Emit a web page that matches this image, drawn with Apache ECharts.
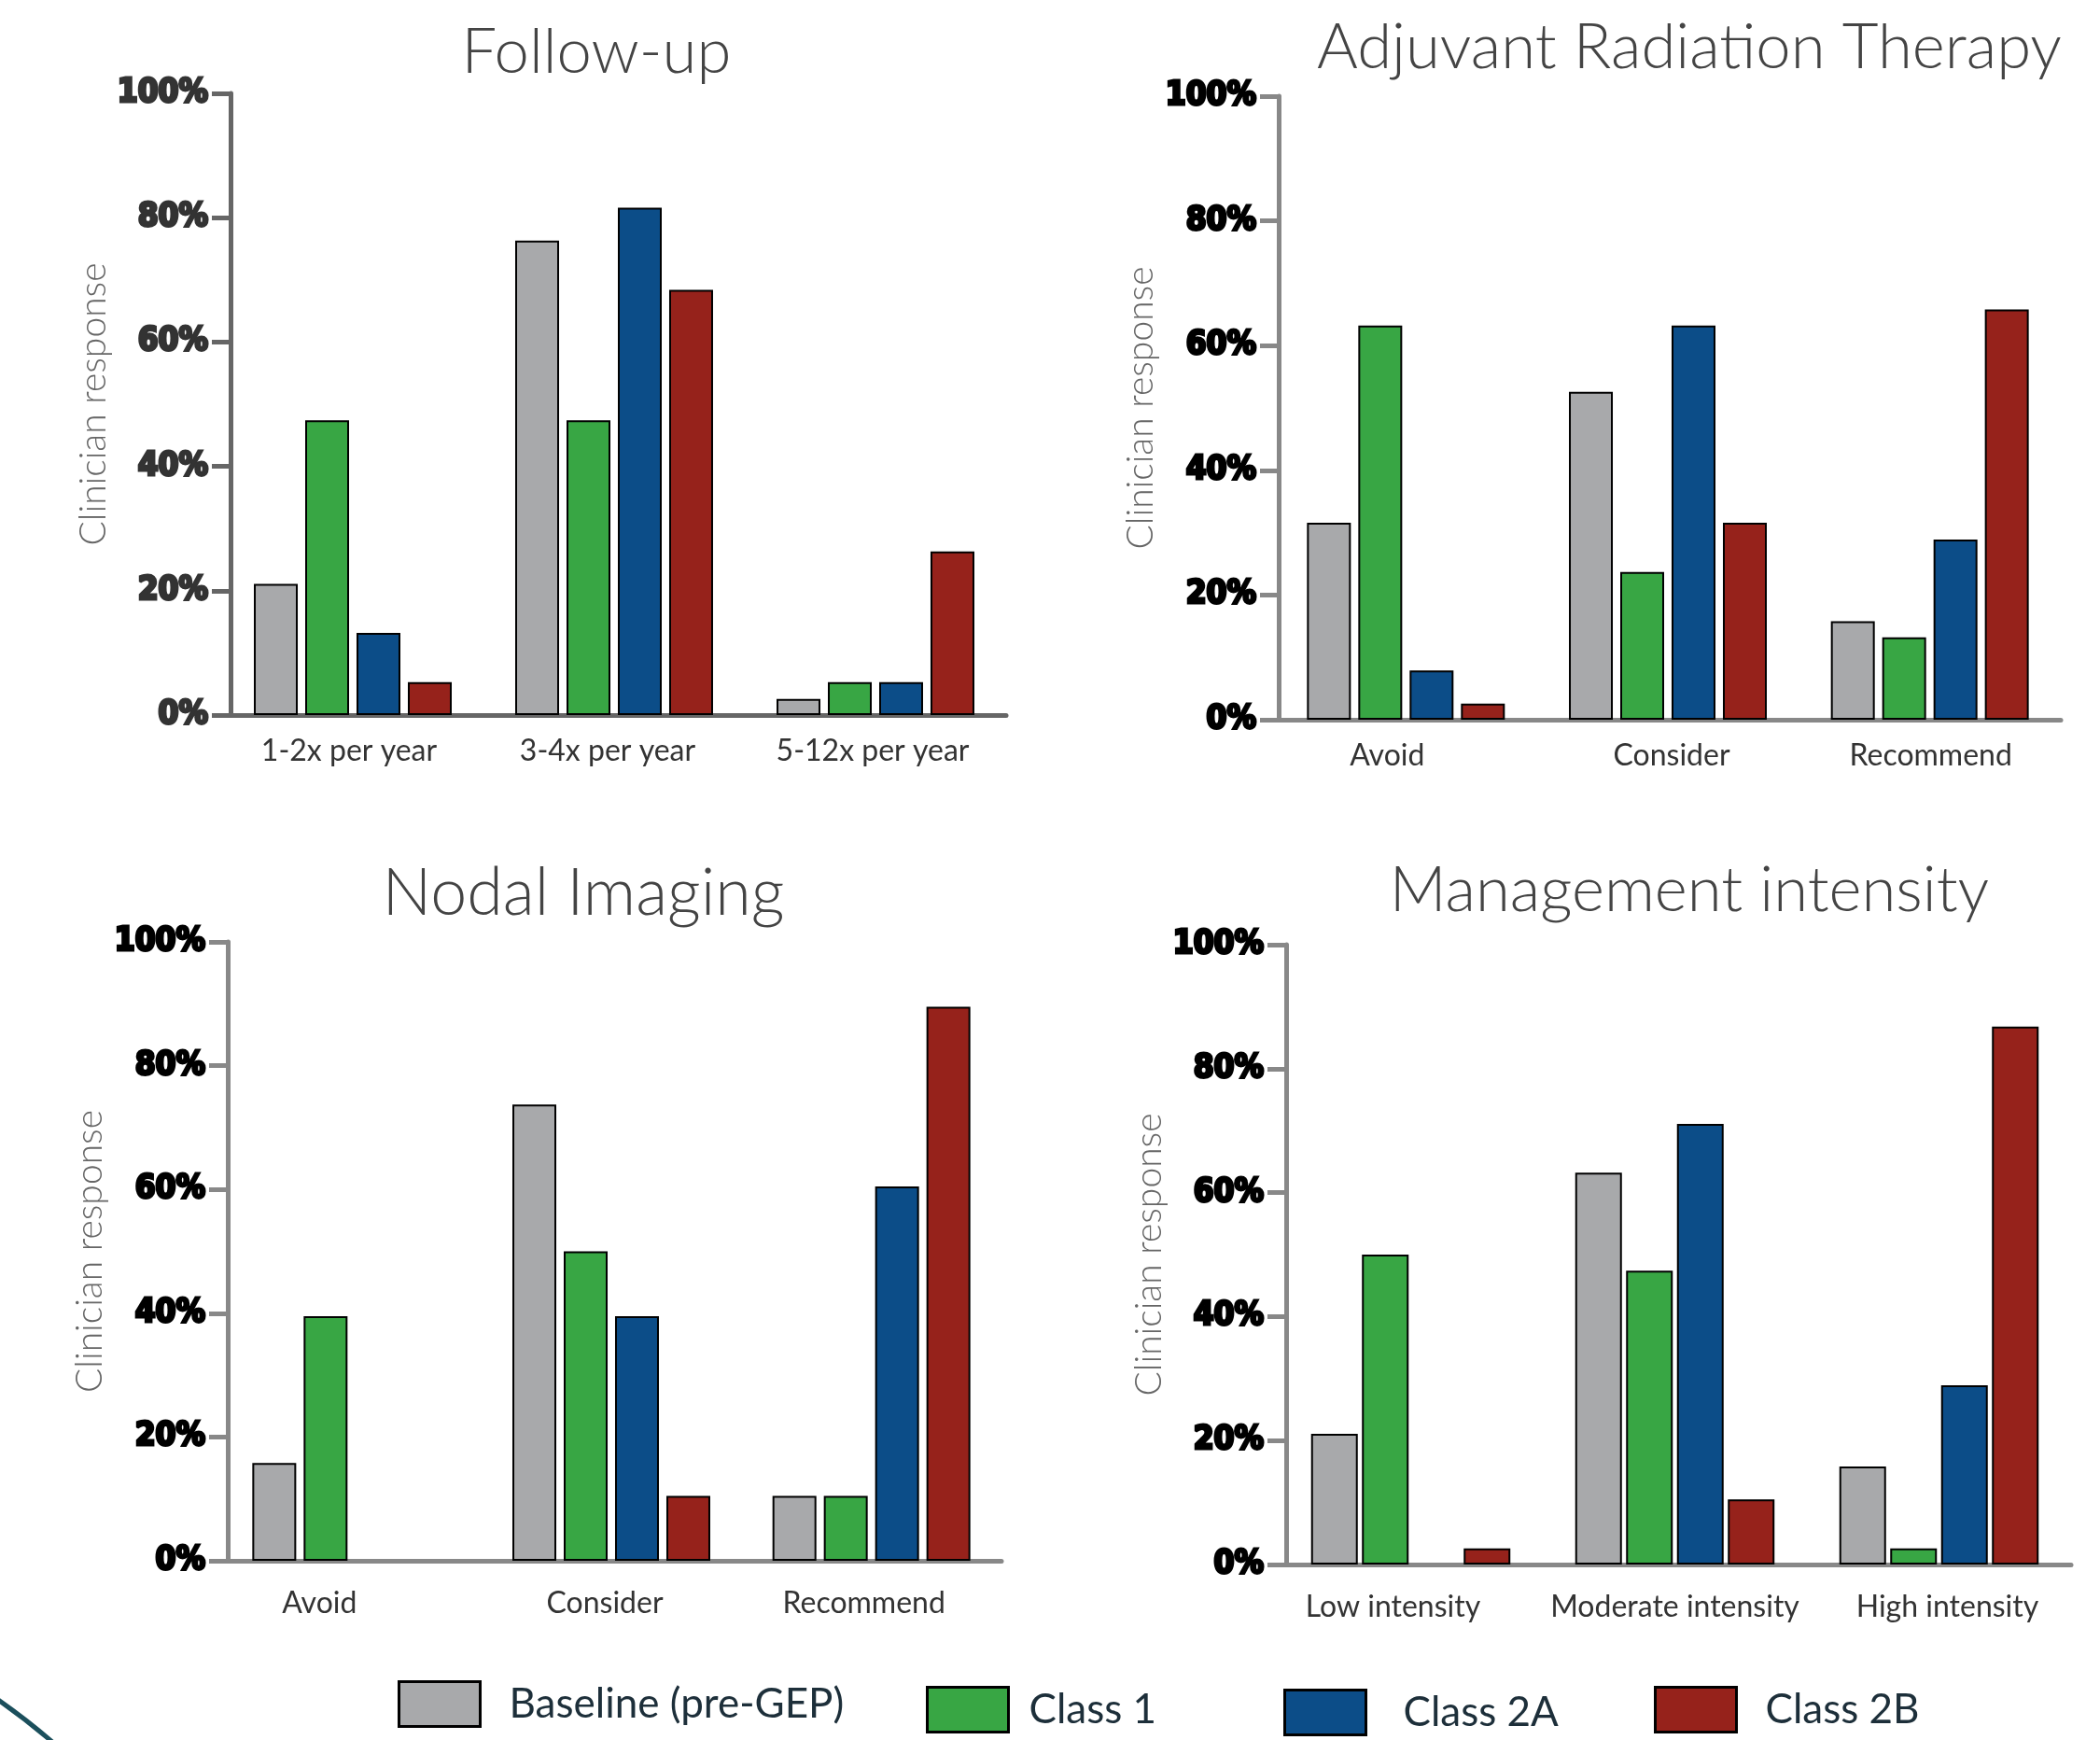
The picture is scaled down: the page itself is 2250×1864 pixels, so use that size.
<!DOCTYPE html>
<html>
<head>
<meta charset="utf-8">
<script src="https://cdn.jsdelivr.net/npm/echarts@6/dist/echarts.min.js"></script>
<style>
html,body{margin:0;padding:0;background:#fff;}
#chart{width:2250px;height:1864px;}
</style>
</head>
<body>
<div id="chart"></div>
<script>
// ---- data (percent of clinicians, n=38) ----
const seriesNames = ['Baseline (pre-GEP)', 'Class 1', 'Class 2A', 'Class 2B'];
const yTicks = [0, 20, 40, 60, 80, 100];

const followUpTitle = 'Follow-up';
const followUpCats = ['1-2x per year', '3-4x per year', '5-12x per year'];
const followUpBaseline = [21.1, 76.3, 2.6];
const followUpClass1   = [47.4, 47.4, 5.3];
const followUpClass2A  = [13.2, 81.6, 5.3];
const followUpClass2B  = [5.3, 68.4, 26.3];

const radiationTitle = 'Adjuvant Radiation Therapy';
const radiationCats = ['Avoid', 'Consider', 'Recommend'];
const radiationBaseline = [31.6, 52.6, 15.8];
const radiationClass1   = [63.2, 23.7, 13.2];
const radiationClass2A  = [7.9, 63.2, 28.9];
const radiationClass2B  = [2.6, 31.6, 65.8];

const nodalTitle = 'Nodal Imaging';
const nodalCats = ['Avoid', 'Consider', 'Recommend'];
const nodalBaseline = [15.8, 73.7, 10.5];
const nodalClass1   = [39.5, 50.0, 10.5];
const nodalClass2A  = [0, 39.5, 60.5];
const nodalClass2B  = [0, 10.5, 89.5];

const mgmtTitle = 'Management intensity';
const mgmtCats = ['Low intensity', 'Moderate intensity', 'High intensity'];
const mgmtBaseline = [21.1, 63.2, 15.8];
const mgmtClass1   = [50.0, 47.4, 2.6];
const mgmtClass2A  = [0, 71.1, 28.9];
const mgmtClass2B  = [2.6, 10.5, 86.8];

const colors = ['#a8a9ab', '#38a644', '#0c4d88', '#96221b'];

// ---- layout ----
// labelShift: horizontal nudge (px) of each category label relative to band centre
const panels = [
  {title: followUpTitle, cats: followUpCats, data: [followUpBaseline, followUpClass1, followUpClass2A, followUpClass2B],
   grid: {left: 238, top: 100, width: 840, height: 666}, axisOffset: -9, titleX: 634, titleTop: 18, titleSize: 67,
   axisColor: '#666', labelColor: '#333', nameGap: 124, barWidth: 47, barGap: '17%', labelMargin: 23, labelShift: [-4, -7, -3]},
  {title: radiationTitle, cats: radiationCats, data: [radiationBaseline, radiationClass1, radiationClass2A, radiationClass2B],
   grid: {left: 1366, top: 103, width: 842, height: 668}, axisOffset: -4, titleX: 1805, titleTop: 13, titleSize: 67,
   axisColor: '#888', labelColor: '#000', nameGap: 128, barWidth: 47, barGap: '17%', labelMargin: 23, labelShift: [-20, 4, 1]},
  {title: nodalTitle, cats: nodalCats, data: [nodalBaseline, nodalClass1, nodalClass2A, nodalClass2B],
   grid: {left: 237, top: 1009, width: 836, height: 663}, axisOffset: -7, titleX: 620, titleTop: 917, titleSize: 70,
   axisColor: '#888', labelColor: '#000', nameGap: 128, barWidth: 47, barGap: '17%', labelMargin: 30, labelShift: [-34, -7, -8]},
  {title: mgmtTitle, cats: mgmtCats, data: [mgmtBaseline, mgmtClass1, mgmtClass2A, mgmtClass2B],
   grid: {left: 1370, top: 1012, width: 849, height: 664}, axisOffset: -8, titleX: 1805, titleTop: 916, titleSize: 67,
   axisColor: '#888', labelColor: '#000', nameGap: 114, barWidth: 50, barGap: '9%', labelMargin: 30, labelShift: [-19, 0, 9]}
];

const textFont = 'Lato, "Open Sans", sans-serif';
const option = {
  backgroundColor: '#fff',
  animation: false,
  title: [], grid: [], xAxis: [], yAxis: [], series: [],
  legend: [],
  graphic: [{
    type: 'bezierCurve',
    shape: {x1: -2, y1: 1821, x2: 56, y2: 1866, cpx1: 28, cpy1: 1842},
    style: {stroke: '#1b4f5c', lineWidth: 5, fill: null}
  }]
};

panels.forEach((p, i) => {
  option.title.push({
    text: p.title, left: p.titleX, top: p.titleTop, textAlign: 'center',
    textStyle: {fontFamily: textFont, fontWeight: 300, fontSize: p.titleSize, color: '#444'}
  });
  option.grid.push(p.grid);
  option.xAxis.push({
    type: 'category', gridIndex: i,
    data: p.cats.map((c, k) => {
      const sh = p.labelShift[k];
      return {value: c, textStyle: {padding: sh < 0 ? [0, -2 * sh, 0, 0] : [0, 0, 0, 2 * sh]}};
    }),
    axisLine: {show: true, lineStyle: {color: p.axisColor, width: 5}},
    axisTick: {show: false},
    axisLabel: {interval: 0, fontFamily: textFont, fontSize: 32, color: '#333', margin: p.labelMargin}
  });
  option.yAxis.push({
    type: 'value', gridIndex: i, min: 0, max: 100, interval: 20, offset: p.axisOffset,
    name: 'Clinician response', nameLocation: 'middle', nameGap: p.nameGap,
    nameTextStyle: {fontFamily: textFont, fontWeight: 300, fontSize: 39, color: '#666'},
    axisLine: {show: true, lineStyle: {color: p.axisColor, width: 5}},
    axisTick: {show: true, length: 20, lineStyle: {color: p.axisColor, width: 5}},
    splitLine: {show: false},
    axisLabel: {
      formatter: v => v + '%', margin: 24,
      fontFamily: '"DejaVu Sans Condensed", "DejaVu Sans", sans-serif',
      fontWeight: 900, fontSize: 35, color: p.labelColor,
      textBorderColor: p.labelColor, textBorderWidth: 3
    }
  });
  p.data.forEach((arr, s) => {
    option.series.push({
      type: 'bar', name: seriesNames[s], xAxisIndex: i, yAxisIndex: i,
      data: arr.map(v => v === 0 ? '-' : v),
      barWidth: p.barWidth, barGap: p.barGap,
      itemStyle: {color: colors[s], borderColor: '#000', borderWidth: 2}
    });
  });
});

const legendPos = [[426, 1800], [992, 1806], [1375, 1809], [1772, 1806]];
const legendTextGap = [26, 17, 35, 26];
seriesNames.forEach((n, s) => {
  option.legend.push({
    data: [n], left: legendPos[s][0], top: legendPos[s][1], padding: 0,
    itemWidth: 87, itemHeight: 48, icon: 'rect',
    itemStyle: {borderColor: '#000', borderWidth: 3},
    textStyle: {fontFamily: textFont, fontSize: 44, color: '#1d2f3a', padding: [0, 0, 0, legendTextGap[s]]},
    selectedMode: false
  });
});

const chart = echarts.init(document.getElementById('chart'), null, {renderer: 'canvas'});
chart.setOption(option);
</script>
</body>
</html>
